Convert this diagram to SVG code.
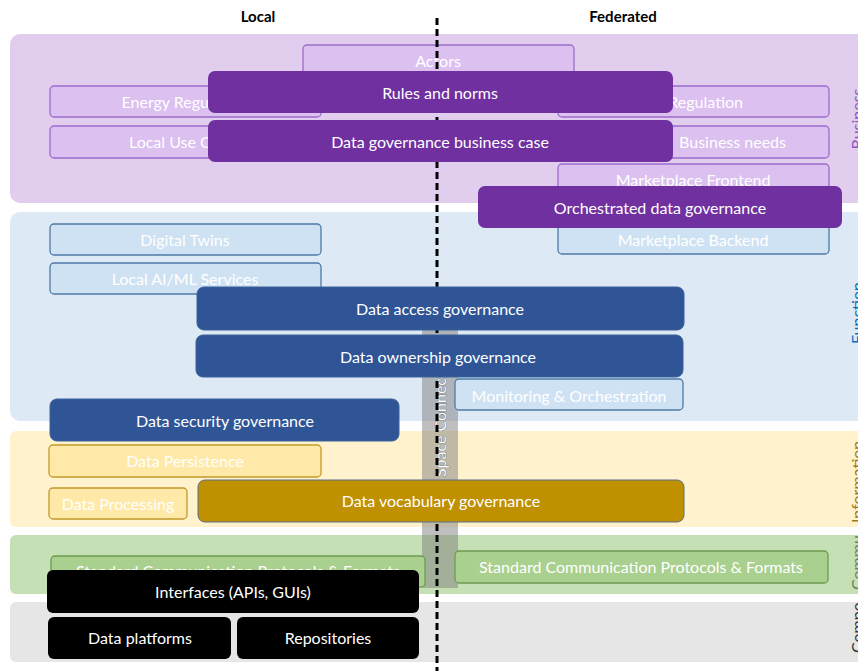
<svg xmlns="http://www.w3.org/2000/svg" width="858" height="671" viewBox="0 0 858 671">
<style>
text{font-family:Lato,"Open Sans","Liberation Sans",sans-serif;}
.hdr{font-size:15px;font-weight:bold;fill:#000;text-anchor:middle;}
.t{font-size:16px;fill:#fff;text-anchor:middle;}
.side{font-size:16px;}
.lb rect{fill:#dbc0f0;stroke:#9d6bcc;stroke-width:1.3;}
.lf rect{fill:#cfe2f3;stroke:#4f7aa6;stroke-width:1.3;}
.li rect{fill:#ffe9a8;stroke:#c29a2a;stroke-width:1.3;}
.lc rect{fill:#a9d08e;stroke:#6e9a52;stroke-width:1.3;}
.dp rect{fill:#7030a0;}
.db rect{fill:#2f5597;stroke:#3a6299;stroke-width:1;}
.dg rect{fill:#bf9000;stroke:#5a6e8a;stroke-width:1;}
.dk rect{fill:#000;}
</style>
<defs>
<clipPath id="cpComm"><rect x="0" y="535" width="858" height="59"/></clipPath>
<clipPath id="cpComp"><rect x="0" y="603" width="858" height="59"/></clipPath>
<clipPath id="cpInfo"><rect x="0" y="431" width="858" height="96"/></clipPath>
</defs>

<g id="bands">
<rect x="10" y="34" width="860" height="169" rx="10" fill="#e1cdee"/>
<rect x="10" y="212" width="860" height="209" rx="10" fill="#dde9f5"/>
<rect x="10" y="431" width="860" height="96" rx="6" fill="#fff2cd"/>
<rect x="10" y="535" width="860" height="59" rx="6" fill="#c5e0b4"/>
<rect x="10" y="602" width="860" height="60" rx="6" fill="#e6e6e6"/>
</g>

<g id="headers">
<text class="hdr" x="258" y="22">Local</text>
<text class="hdr" x="623" y="22">Federated</text>
</g>

<g id="side-labels">
<text class="side" transform="translate(863,119) rotate(-90)" text-anchor="middle" fill="#8a55c0">Business</text>
<text class="side" transform="translate(863,313) rotate(-90)" text-anchor="middle" fill="#0070c0">Function</text>
<g clip-path="url(#cpInfo)"><text class="side" transform="translate(863,523) rotate(-90)" text-anchor="start" fill="#9c7a1f">Information</text></g>
<g clip-path="url(#cpComm)"><text class="side" transform="translate(863,590) rotate(-90)" text-anchor="start" fill="#6a7f5c">Communication</text></g>
<g clip-path="url(#cpComp)"><text class="side" transform="translate(863,653) rotate(-90)" text-anchor="start" fill="#333">Component</text></g>
</g>

<g id="connector-band">
<rect x="422" y="290" width="36" height="298" fill="#7f7f7f" opacity="0.5"/>
<text transform="translate(440,436) rotate(-90)" text-anchor="middle" font-size="16" fill="#fff" stroke="#555" stroke-width="0.6" paint-order="stroke" dy="5.5">Data Space Connector</text>
</g>

<g id="actors" class="lb"><rect x="303" y="45" width="271" height="32" rx="4"/><text class="t" x="438" y="66.5">Actors</text></g>
<g id="energy-regulation" class="lb"><rect x="50" y="86" width="271" height="31" rx="4"/><text class="t" x="185" y="107.5">Energy Regulation</text></g>
<g id="local-use-cases" class="lb"><rect x="50" y="126" width="271" height="32" rx="4"/><text class="t" x="185" y="147.5">Local Use Cases</text></g>
<g id="regulation" class="lb"><rect x="558" y="86" width="271" height="31" rx="4"/><text class="t" x="743" y="107.5" style="text-anchor:end">Regulation</text></g>
<g id="business-needs" class="lb"><rect x="558" y="126" width="271" height="32" rx="4"/><text class="t" x="786" y="147.5" style="text-anchor:end">Business needs</text></g>
<g id="marketplace-frontend" class="lb"><rect x="558" y="164" width="271" height="32" rx="4"/><text class="t" x="693" y="186">Marketplace Frontend</text></g>

<g id="digital-twins" class="lf"><rect x="50" y="224" width="271" height="31" rx="4"/><text class="t" x="185" y="245.5">Digital Twins</text></g>
<g id="local-ai-ml" class="lf"><rect x="50" y="263" width="271" height="31" rx="4"/><text class="t" x="185" y="284.5">Local AI/ML Services</text></g>
<g id="marketplace-backend" class="lf"><rect x="558" y="215" width="271" height="39" rx="4"/><text class="t" x="693" y="245.5">Marketplace Backend</text></g>
<g id="monitoring" class="lf"><rect x="455" y="379" width="228" height="31" rx="4"/><text class="t" x="569" y="401.5">Monitoring &amp; Orchestration</text></g>

<g id="data-persistence" class="li"><rect x="49" y="445" width="272" height="32" rx="4"/><text class="t" x="185" y="466.5">Data Persistence</text></g>
<g id="data-processing" class="li"><rect x="49" y="488" width="138" height="31" rx="4"/><text class="t" x="118" y="509.5">Data Processing</text></g>

<g id="std-comm-local" class="lc"><rect x="51" y="556" width="374" height="31" rx="4"/><text class="t" x="238" y="577">Standard Communication Protocols &amp; Formats</text></g>
<g id="std-comm-federated" class="lc"><rect x="455" y="551" width="373" height="32" rx="4"/><text class="t" x="641" y="572.5">Standard Communication Protocols &amp; Formats</text></g>

<g id="connectors">
<line x1="437" y1="18" x2="437" y2="671" stroke="#000" stroke-width="3" stroke-dasharray="7 4"/>
</g>

<g id="rules-and-norms" class="dp"><rect x="208" y="71" width="465" height="42" rx="7"/><text class="t" x="440" y="98.5">Rules and norms</text></g>
<g id="dg-business-case" class="dp"><rect x="208" y="120" width="465" height="42" rx="7"/><text class="t" x="440" y="147.5">Data governance business case</text></g>
<g id="orchestrated-dg" class="dp"><rect x="478" y="186" width="364" height="42" rx="7"/><text class="t" x="660" y="213.5">Orchestrated data governance</text></g>

<g id="data-access" class="db"><rect x="197" y="287" width="487" height="43" rx="7"/><text class="t" x="440" y="314.5">Data access governance</text></g>
<g id="data-ownership" class="db"><rect x="196" y="335" width="487" height="42" rx="7"/><text class="t" x="438" y="362.5">Data ownership governance</text></g>
<g id="data-security" class="db"><rect x="50" y="399" width="349" height="42" rx="7"/><text class="t" x="225" y="426.5">Data security governance</text></g>

<g id="data-vocabulary" class="dg"><rect x="198" y="480" width="486" height="42" rx="7"/><text class="t" x="441" y="507">Data vocabulary governance</text></g>

<g id="interfaces" class="dk"><rect x="47" y="570" width="372" height="43" rx="6"/><text class="t" x="233" y="597.5">Interfaces (APIs, GUIs)</text></g>
<g id="data-platforms" class="dk"><rect x="48" y="617" width="183" height="42" rx="6"/><text class="t" x="140" y="643.5">Data platforms</text></g>
<g id="repositories" class="dk"><rect x="237" y="617" width="182" height="42" rx="6"/><text class="t" x="328" y="643.5">Repositories</text></g>
</svg>
